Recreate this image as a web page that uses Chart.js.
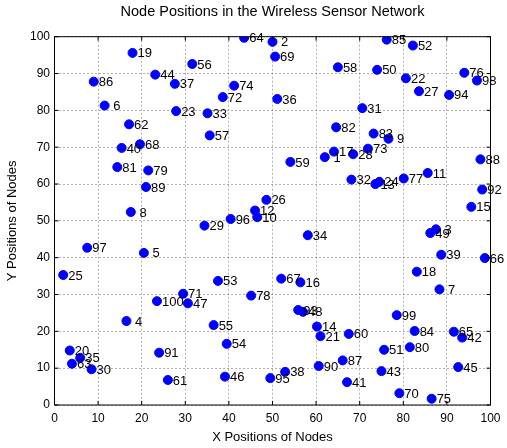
<!DOCTYPE html>
<html>
<head>
<meta charset="utf-8">
<script src="https://cdn.jsdelivr.net/npm/chart.js@4"></script>
<style>
  body { margin: 0; background: #fff; }
  canvas { display: block; }
</style>
</head>
<body>
<canvas id="wsn-chart" width="507" height="448"></canvas>
<script>
// ---------- DATA (node 1..100) ----------
const xPos = [
  62.0, 50.0, 87.5, 16.5, 20.5, 11.5, 88.3, 17.5, 76.6, 46.5,
  85.6, 46.0, 73.6, 60.2, 95.6, 56.4, 64.1, 83.1, 17.9, 3.5,
  61.0, 80.6, 27.9, 74.5, 2.0, 48.6, 83.6, 68.5, 34.4, 8.5,
  70.6, 68.1, 35.1, 58.1, 5.9, 51.1, 27.6, 52.9, 88.7, 15.4,
  67.1, 93.5, 75.0, 23.1, 92.6, 39.1, 30.6, 57.0, 86.2, 74.0,
  75.6, 82.2, 37.5, 39.5, 36.5, 31.6, 35.6, 65.0, 54.1, 67.5,
  26.0, 17.1, 4.0, 43.5, 91.6, 98.7, 52.0, 19.6, 50.6, 79.1,
  29.5, 38.6, 71.9, 41.2, 86.5, 94.0, 80.1, 45.1, 21.5, 81.5,
  14.4, 64.6, 73.2, 82.6, 76.2, 9.0, 66.1, 97.7, 21.0, 60.6,
  24.0, 98.1, 55.9, 90.5, 49.5, 40.4, 7.5, 96.9, 78.5, 23.5
];
const yPos = [
  67.3, 98.6, 47.7, 22.8, 41.3, 81.3, 31.4, 52.4, 72.3, 51.0,
  63.0, 52.8, 60.0, 21.3, 53.8, 33.3, 68.8, 36.2, 95.6, 14.8,
  18.7, 88.7, 79.8, 60.6, 35.3, 55.7, 85.2, 68.1, 48.7, 9.7,
  80.6, 61.2, 79.2, 46.1, 12.8, 83.1, 87.2, 9.0, 40.8, 69.8,
  6.2, 18.3, 9.2, 89.7, 10.3, 7.7, 27.6, 25.3, 46.7, 91.0,
  15.0, 97.6, 33.7, 16.6, 21.7, 92.6, 73.2, 91.7, 66.0, 19.3,
  6.8, 76.2, 11.2, 99.7, 19.9, 39.9, 34.3, 70.8, 94.6, 3.2,
  30.2, 83.6, 69.6, 86.7, 1.7, 90.2, 61.5, 29.7, 63.7, 15.7,
  64.6, 75.4, 73.7, 20.1, 99.2, 87.8, 12.1, 66.7, 59.2, 10.6,
  14.2, 58.5, 25.8, 84.2, 7.3, 50.5, 42.7, 88.1, 24.4, 28.2
];
const nodeIds = xPos.map((_, i) => i + 1);
const axisTicks = [0, 10, 20, 30, 40, 50, 60, 70, 80, 90, 100];

const FONT = "'Liberation Sans', Arial, Helvetica, sans-serif";

// ---------- PLUGINS ----------
// node number next to every dot
const nodeLabels = {
  id: "nodeLabels",
  afterDatasetsDraw(chart) {
    const ctx = chart.ctx;
    const meta = chart.getDatasetMeta(0);
    ctx.save();
    ctx.font = "13px " + FONT;
    ctx.fillStyle = "#000";
    ctx.textAlign = "left";
    ctx.textBaseline = "middle";
    meta.data.forEach((pt, i) => {
      const id = nodeIds[i];
      const txt = id < 10 ? " " + id : String(id);
      ctx.fillText(txt, pt.x + 5, pt.y + 1);
    });
    ctx.restore();
  }
};

// matlab style box with inward ticks
const boxFrame = {
  id: "boxFrame",
  afterDraw(chart) {
    const { ctx, chartArea: a, scales } = chart;
    const len = 4;
    ctx.save();
    ctx.strokeStyle = "#000";
    ctx.lineWidth = 1;
    ctx.strokeRect(a.left, a.top, a.right - a.left, a.bottom - a.top);
    ctx.beginPath();
    axisTicks.forEach(v => {
      const px = scales.x.getPixelForValue(v);
      ctx.moveTo(px, a.bottom); ctx.lineTo(px, a.bottom - len);
      ctx.moveTo(px, a.top); ctx.lineTo(px, a.top + len);
      const py = scales.y.getPixelForValue(v);
      ctx.moveTo(a.left, py); ctx.lineTo(a.left + len, py);
      ctx.moveTo(a.right, py); ctx.lineTo(a.right - len, py);
    });
    ctx.stroke();
    ctx.restore();
  }
};

// ---------- CHART ----------
const gridStyle = {
  color: "rgba(0,0,0,0.3)",
  lineWidth: 1,
  drawTicks: false
};

new Chart(document.getElementById("wsn-chart"), {
  type: "scatter",
  data: {
    datasets: [{
      data: xPos.map((x, i) => ({ x: x, y: yPos[i] })),
      backgroundColor: "#0000ff",
      borderColor: "#0000ff",
      pointRadius: 4.5,
      pointHoverRadius: 4.5
    }]
  },
  options: {
    responsive: false,
    animation: false,
    layout: { padding: { left: 0, right: 12.5, top: 0, bottom: 0 } },
    plugins: {
      legend: { display: false },
      tooltip: { enabled: false },
      title: {
        display: true,
        fullSize: false,
        text: "Node Positions in the Wireless Sensor Network",
        color: "#000",
        font: { family: FONT, size: 14.5, weight: "normal" },
        padding: { top: 3.3, bottom: 16 }
      }
    },
    scales: {
      x: {
        type: "linear",
        min: 0,
        max: 100,
        afterBuildTicks: s => { s.ticks = axisTicks.map(v => ({ value: v })); },
        afterFit: s => { s.height = 43; },
        border: { display: false, dash: [2, 2] },
        grid: gridStyle,
        ticks: {
          color: "#000",
          font: { family: FONT, size: 12 },
          padding: 6.5,
          autoSkip: false,
          maxRotation: 0
        },
        title: {
          display: true,
          text: "X Positions of Nodes",
          color: "#000",
          font: { family: FONT, size: 13 },
          padding: { top: 0, bottom: 3 }
        }
      },
      y: {
        type: "linear",
        min: 0,
        max: 100,
        afterBuildTicks: s => { s.ticks = axisTicks.map(v => ({ value: v })); },
        afterFit: s => { s.width = 54.5; },
        border: { display: false, dash: [2, 2] },
        grid: gridStyle,
        ticks: {
          color: "#000",
          font: { family: FONT, size: 12 },
          padding: 4.5,
          autoSkip: false
        },
        title: {
          display: true,
          text: "Y Positions of Nodes",
          color: "#000",
          font: { family: FONT, size: 13 },
          padding: { top: 4.5, bottom: 0 }
        }
      }
    }
  },
  plugins: [nodeLabels, boxFrame]
});
</script>
</body>
</html>
